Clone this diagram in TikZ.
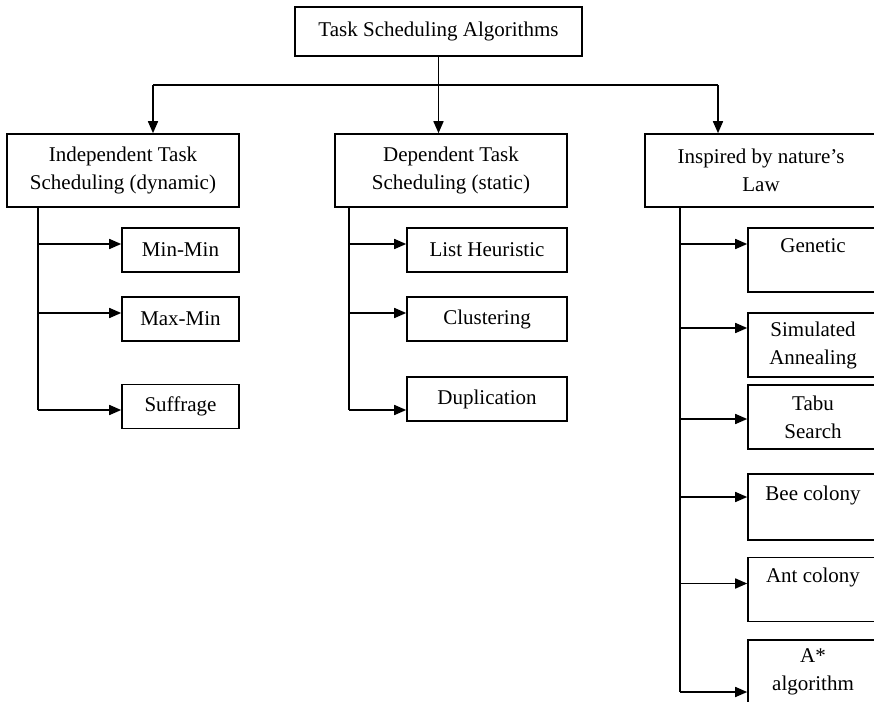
\documentclass[tikz,border=0pt]{standalone}
\usepackage{fontspec}
\setmainfont{Liberation Serif}
\usepackage{tikz}
\usetikzlibrary{calc}
\usetikzlibrary{positioning}
\usetikzlibrary{arrows.meta}

\begin{document}
\begin{tikzpicture}[
    x=1pt, y=-1pt,
    font=\fontsize{21}{28}\selectfont,
    line width=1.6pt,
    % Styles for the boxes
    rootbox/.style={draw, rectangle, inner sep=0pt, minimum width=287, minimum height=49},
    groupbox/.style={draw, rectangle, align=center, inner sep=0pt, minimum width=232, minimum height=73},
    leafbox/.style={draw, rectangle, align=center, inner sep=0pt, minimum height=44},
    natbox/.style={draw, rectangle, align=center, inner sep=0pt, minimum width=130, minimum height=64},
    arr/.style={-{Triangle[length=12pt, width=10pt]}}
]

\useasboundingbox (0,0) rectangle (874,701);
\clip (0,0) rectangle (874,701);

% --- 1. Root and the three families ---

\node[rootbox] (root) at (438.5, 31.5) {Task Scheduling Algorithms};

\node[groupbox] (indep) at (123, 170.5) {Independent Task\\Scheduling (dynamic)};
\node[groupbox] (dep) at (451, 170.5) {Dependent Task\\Scheduling (static)};
\node[groupbox] (insp) at (761, 170.5) {Inspired by nature's\\Law};

% Splitting line under the root
\coordinate (hub) at ($(root.south)+(0,29)$);
\coordinate (hubL) at (153, 85);
\coordinate (hubR) at (718, 85);

\draw (root.south) -- (hub);
\draw (hubL) -- (hubR);
\draw[arr] (hubL) -- (hubL |- indep.north);
\draw[arr] (hub) -- (hub |- dep.north);
\draw[arr] (hubR) -- (hubR |- insp.north);

% --- 2. Independent task scheduling ---

\node[leafbox, minimum width=117] (minmin) at (180.5, 250) {Min-Min};
\node[leafbox, minimum width=117] (maxmin) at (180.5, 319) {Max-Min};
\node[leafbox, minimum width=117] (suffrage) at (180.5, 406.5) {Suffrage};

\coordinate (t1) at ($(indep.south west)+(32,0)$);
\draw (t1) -- ($(t1 |- suffrage.west)+(0,3.5)$);
\foreach \n/\s in {minmin/-6, maxmin/-6, suffrage/3.5}
    \draw[arr] ($(t1 |- \n.west)+(0,\s)$) -- ($(\n.west)+(0,\s)$);

% --- 3. Dependent task scheduling ---

\node[leafbox, minimum width=160] (listh) at (487, 250) {List Heuristic};
\node[leafbox, minimum width=160] (clust) at (487, 319) {Clustering};
\node[leafbox, minimum width=160] (dupl) at (487, 399) {Duplication};

\coordinate (t2) at ($(dep.south west)+(15,0)$);
\draw (t2) -- ($(t2 |- dupl.west)+(0,11)$);
\foreach \n/\s in {listh/-6, clust/-6, dupl/11}
    \draw[arr] ($(t2 |- \n.west)+(0,\s)$) -- ($(\n.west)+(0,\s)$);

% --- 4. Nature inspired ---

\node[natbox] (genetic) at (813, 260) {Genetic\\~};
\node[natbox] (simann) at (813, 345) {Simulated\\Annealing};
\node[natbox] (tabu) at (813, 417) {Tabu\\Search};
\node[natbox, minimum height=66] (bee) at (813, 507) {Bee colony\\~};
\node[natbox] (ant) at (813, 589.5) {Ant colony\\~};
\node[natbox] (astar) at (813, 672) {A*\\algorithm};

\coordinate (t3) at ($(insp.south west)+(36,0)$);
\draw (t3) -- ($(t3 |- astar.west)+(0,20)$);
\foreach \n/\s in {genetic/-16, simann/-17, tabu/2, bee/-10, ant/-6, astar/20}
    \draw[arr] ($(t3 |- \n.west)+(0,\s)$) -- ($(\n.west)+(0,\s)$);

\end{tikzpicture}
\end{document}
